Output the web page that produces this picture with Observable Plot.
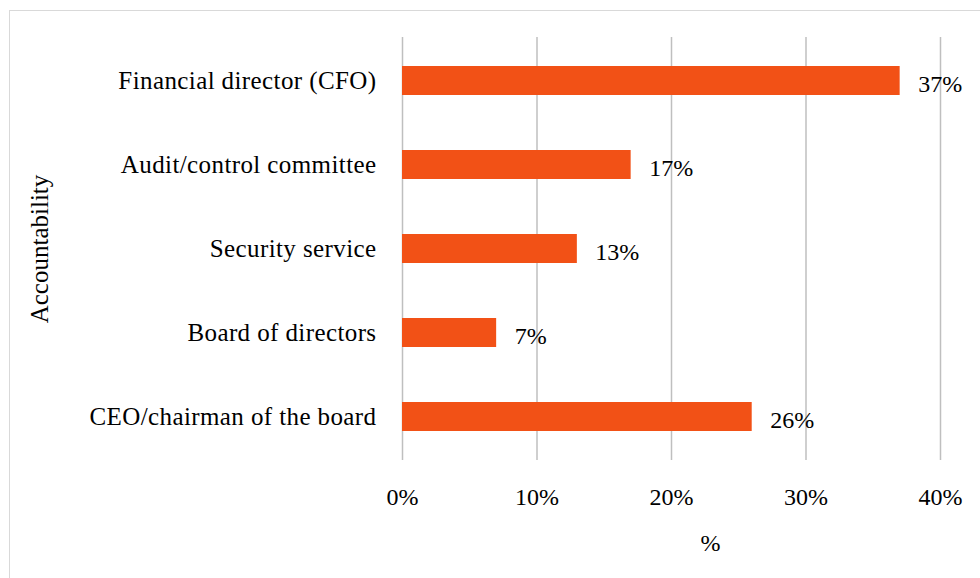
<!DOCTYPE html>
<html>
<head>
<meta charset="utf-8">
<script src="https://cdn.jsdelivr.net/npm/d3@7"></script>
<script src="https://cdn.jsdelivr.net/npm/@observablehq/plot@0.6"></script>
<style>
  html, body { margin: 0; padding: 0; background: #fff; overflow: hidden; }
  #wrap { position: relative; width: 980px; height: 578px; }
  #border { position: absolute; left: 9px; top: 10px; width: 990px; height: 600px; border: 1.5px solid #d9d9d9; box-sizing: border-box; }
  #chart { position: absolute; left: 0; top: 0; }
  #chart g[aria-label="y-axis tick label"] text { letter-spacing: 0.4px; }
</style>
</head>
<body>
<div id="wrap"><div id="border"></div><div id="chart"></div></div>
<script>
const categories = ["Financial director (CFO)", "Audit/control committee", "Security service", "Board of directors", "CEO/chairman of the board"];
const values = [0.37, 0.17, 0.13, 0.07, 0.26];
const xTicks = [0, 0.1, 0.2, 0.3, 0.4];
const xTitle = "%";
const yTitle = "Accountability";

const data = categories.map((c, i) => ({category: c, value: values[i]}));
const font = "'Liberation Serif', 'Times New Roman', serif";

const chart = Plot.plot({
  width: 980,
  height: 578,
  marginTop: 37,
  marginBottom: 118,
  marginLeft: 402,
  marginRight: 40,
  style: {fontFamily: font, fontSize: "24px", color: "#000", background: "transparent"},
  x: {domain: [0, 0.4], ticks: xTicks, tickFormat: d3.format(".0%"), label: null},
  y: {domain: categories, paddingInner: 0.65, paddingOuter: 0.325, label: null},
  marks: [
    Plot.gridX(xTicks, {stroke: "#bfbfbf", strokeOpacity: 1, strokeWidth: 1.5}),
    Plot.axisX({ticks: xTicks, tickFormat: d3.format(".0%"), tickSize: 0, tickPadding: 27, label: null, fontSize: 24}),
    Plot.axisY({tickSize: 0, tickPadding: 26, label: yTitle, labelAnchor: "center", labelOffset: 372, labelArrow: "none", fontSize: 25}),
    Plot.barX(data, {x: "value", y: "category", fill: "#F25116"}),
    Plot.text(data, {x: "value", y: "category", text: d => d3.format(".0%")(d.value), textAnchor: "start", dx: 18, dy: 3, fontSize: 24, fill: "#000"}),
    Plot.text([xTitle], {frameAnchor: "bottom", text: d => d, dx: 39, dy: 90, fontSize: 24, fill: "#000"})
  ]
});
document.getElementById("chart").appendChild(chart);
</script>
</body>
</html>
